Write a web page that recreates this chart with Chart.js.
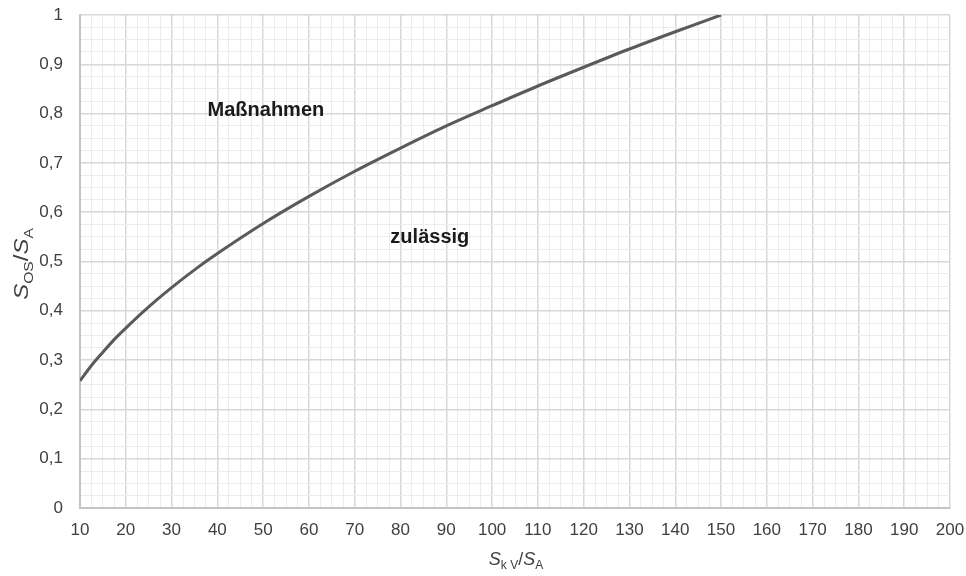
<!DOCTYPE html>
<html>
<head>
<meta charset="utf-8">
<script src="https://cdn.jsdelivr.net/npm/chart.js@4/dist/chart.umd.min.js"></script>
<style>
html,body{margin:0;padding:0;background:#fff;}
#c{display:block;}
</style>
</head>
<body>
<canvas id="c" width="966" height="576"></canvas>
<script>
// Data
const ratioSkV = [10, 12.5, 15, 17.5, 20, 25, 30, 35, 40, 50, 60, 70, 80, 90, 100, 110, 120, 130, 140, 150];
const ratioSOS = [0.258, 0.289, 0.316, 0.342, 0.365, 0.408, 0.447, 0.483, 0.516, 0.577, 0.632, 0.683, 0.730, 0.775, 0.816, 0.856, 0.894, 0.931, 0.966, 1.0];
const xMajorTicks = [10, 20, 30, 40, 50, 60, 70, 80, 90, 100, 110, 120, 130, 140, 150, 160, 170, 180, 190, 200];
const yMajorTicks = ['0', '0,1', '0,2', '0,3', '0,4', '0,5', '0,6', '0,7', '0,8', '0,9', '1'];
const regionLabels = ['Maßnahmen', 'zulässig'];
const regionLabelX = [50.6, 86.4];
const regionLabelY = [0.795, 0.5375];

const points = ratioSkV.map((x, i) => ({x: x, y: ratioSOS[i]}));

const FONT = '"Liberation Sans", Arial, sans-serif';
const isMajor = (v, step) => Math.abs(Math.round(v / step) * step - v) < 1e-6;

function drawRich(ctx, segs, x, y, rotate, stretch) {
  ctx.save();
  ctx.translate(x, y);
  if (rotate) ctx.rotate(-Math.PI / 2);
  ctx.scale(stretch || 1, 1);
  let total = 0;
  segs.forEach(s => { ctx.font = s.font; total += ctx.measureText(s.t).width; });
  let cx = -total / 2;
  ctx.textBaseline = 'alphabetic';
  ctx.textAlign = 'left';
  ctx.fillStyle = '#404040';
  segs.forEach(s => {
    ctx.font = s.font;
    ctx.fillText(s.t, cx, s.dy || 0);
    cx += ctx.measureText(s.t).width;
  });
  ctx.restore();
}

const extras = {
  id: 'extras',
  afterDraw(chart) {
    const ctx = chart.ctx;
    const xs = chart.scales.x, ys = chart.scales.y;
    ctx.save();
    ctx.font = 'bold 20px ' + FONT;
    ctx.fillStyle = '#1a1a1a';
    ctx.textAlign = 'center';
    ctx.textBaseline = 'alphabetic';
    regionLabels.forEach((t, i) => {
      ctx.fillText(t, xs.getPixelForValue(regionLabelX[i]), ys.getPixelForValue(regionLabelY[i]));
    });
    ctx.restore();
    drawRich(ctx, [
      {t: 'S', font: 'italic 18px ' + FONT}, {t: 'k V', font: '12px ' + FONT, dy: 4}, {t: '/', font: '18px ' + FONT},
      {t: 'S', font: 'italic 18px ' + FONT}, {t: 'A', font: '12px ' + FONT, dy: 4}
    ], 516, 565, false, 1);
    drawRich(ctx, [
      {t: 'S', font: 'italic 20px ' + FONT}, {t: 'OS', font: '13px ' + FONT, dy: 5}, {t: '/', font: '20px ' + FONT},
      {t: 'S', font: 'italic 20px ' + FONT}, {t: 'A', font: '13px ' + FONT, dy: 5}
    ], 28, 264, true, 1.2);
  }
};

new Chart(document.getElementById('c'), {
  type: 'scatter',
  data: {
    datasets: [{
      data: points,
      showLine: true,
      borderColor: '#5a5a5a',
      borderWidth: 3,
      pointRadius: 0,
      cubicInterpolationMode: 'monotone',
      fill: false
    }]
  },
  options: {
    responsive: false,
    devicePixelRatio: 1,
    animation: false,
    layout: {padding: {top: 15, right: 16, left: 0, bottom: 0}},
    plugins: {legend: {display: false}, tooltip: {enabled: false}},
    scales: {
      x: {
        type: 'linear', min: 10, max: 200,
        afterFit(s) { s.height = 68; s.paddingLeft = 0; s.paddingRight = 0; },
        ticks: {
          stepSize: 2.5, autoSkip: false, maxRotation: 0, padding: 12,
          color: '#404040', font: {family: FONT, size: 17},
          callback: (v) => isMajor(v, 10) ? String(xMajorTicks[Math.round((v - 10) / 10)]) : ''
        },
        grid: {
          drawTicks: false,
          color: (c) => isMajor(c.tick.value, 10) ? '#d8d8d8' : '#ececec',
          lineWidth: (c) => isMajor(c.tick.value, 10) ? 1.5 : 1
        },
        border: {color: '#c4c4c4', width: 2}
      },
      y: {
        type: 'linear', min: 0, max: 1,
        afterFit(s) { s.width = 80; s.paddingTop = 0; s.paddingBottom = 0; },
        ticks: {
          stepSize: 0.025, autoSkip: false, padding: 17,
          color: '#404040', font: {family: FONT, size: 17},
          callback: (v) => isMajor(v, 0.1) ? yMajorTicks[Math.round(v * 10)] : ''
        },
        grid: {
          drawTicks: false,
          color: (c) => isMajor(c.tick.value, 0.1) ? '#d8d8d8' : '#ececec',
          lineWidth: (c) => isMajor(c.tick.value, 0.1) ? 1.5 : 1
        },
        border: {color: '#c4c4c4', width: 2}
      }
    }
  },
  plugins: [extras]
});
</script>
</body>
</html>
